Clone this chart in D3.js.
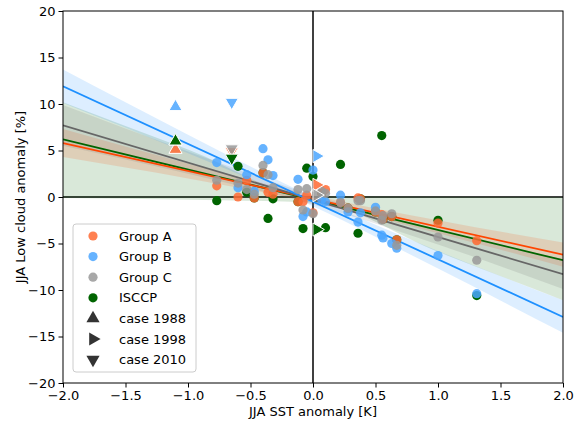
<!DOCTYPE html>
<html>
<head>
<meta charset="utf-8">
<script src="https://cdn.jsdelivr.net/npm/d3@7"></script>
<style>
  body { margin: 0; background: #fff; }
  svg text { font-family: "DejaVu Sans", sans-serif; }
</style>
</head>
<body>
<svg id="chart"></svg>
<script>
// yearly JJA SST anomaly (shared x for all groups)
const sst    = [-0.77, -0.60, -0.53, -0.47, -0.40, -0.36, -0.32, -0.12, -0.08, -0.05, 0.00, 0.07, 0.10, 0.22, 0.28, 0.36, 0.38, 0.50, 0.55, 0.56, 0.63, 0.67, 1.00, 1.31];
const groupA = [1.2, 0.0, 1.8, -0.1, 2.6, 0.5, 0.3, -0.5, -0.5, 0.2, -1.7, 0.4, 0.8, -0.6, -1.2, -0.1, -0.2, -1.6, -1.9, -2.4, -2.1, -4.6, -2.8, -4.7];
const groupB = [3.7, 1.0, 2.4, 0.6, 5.2, 4.0, 2.3, 1.9, -2.1, -1.6, 2.9, -0.3, -0.5, 0.2, -1.6, -2.7, -1.7, -1.1, -4.1, -4.4, -5.0, -5.5, -6.3, -10.4];
const groupC = [1.8, 1.5, 0.8, 0.3, 3.4, 2.4, 1.0, 0.8, -1.4, 0.9, -1.8, 0.6, 0.4, -0.6, -1.2, -0.4, -0.4, -1.5, -2.5, -2.0, -1.8, -5.2, -4.3, -6.8];
const isccp  = [-0.4, 3.3, 0.5, -0.1, 2.6, -2.3, -0.2, -0.5, -3.4, 3.1, 2.2, 0.4, -3.3, 3.5, -1.2, -3.9, -0.2, -1.6, 6.6, -2.4, -2.1, -4.6, -2.5, -10.6];

// case years: 1988, 1998, 2010
const caseNames = ['case 1988', 'case 1998', 'case 2010'];
const caseSst = [-1.10, 0.03, -0.65];
const caseA = [5.1, 1.3, 4.9];
const caseB = [9.7, 4.4, 10.2];
const caseC = [6.0, 0.2, 5.2];
const caseI = [6.0, -3.5, 4.2];

// regression lines and bands
const groupNames = ['Group A', 'Group B', 'Group C', 'ISCCP'];
const slopes     = [-3.0, -6.2, -4.0, -3.25];
const intercepts = [-0.2, -0.5, -0.3, -0.3];
const bandX  = [-2, -1, 0, 1, 2];
const upperA = [7.3, 3.6, 0.2, -2.5, -4.9];
const lowerA = [4.3, 2.0, -0.6, -3.9, -7.5];
const upperB = [13.7, 6.7, 0.0, -5.8, -11.1];
const lowerB = [10.1, 4.7, -1.0, -7.7, -14.6];
const upperC = [9.9, 4.9, 0.2, -3.5, -6.7];
const lowerC = [5.5, 2.5, -0.8, -5.1, -9.9];
const upperI = [10.2, 5.1, 0.1, 0.05, 0.0];
const lowerI = [-0.1, -0.3, -0.6, -5.9, -11.1];

const xTicks = [-2, -1.5, -1, -0.5, 0, 0.5, 1, 1.5, 2];
const yTicks = [-20, -15, -10, -5, 0, 5, 10, 15, 20];

width = 584
height = 421
marginTop = 11
marginRight = 21
marginBottom = 38
marginLeft = 63

const lineColors  = ['#ff4500', '#1e90ff', '#666666', '#006400'];
const pointColors = ['#ff6a33', '#4ba6ff', '#999999', '#006400'];
const pointAlpha  = [0.85, 0.85, 0.85, 1];

const svg = d3.select('#chart')
  .attr('width', width)
  .attr('height', height)
  .attr('viewBox', [0, 0, width, height]);

const x = d3.scaleLinear().domain([-2, 2]).range([marginLeft, width - marginRight]);
const y = d3.scaleLinear().domain([-20, 20]).range([height - marginBottom, marginTop]);

svg.append('defs').append('clipPath').attr('id', 'clip')
  .append('rect')
  .attr('x', marginLeft).attr('y', marginTop)
  .attr('width', width - marginLeft - marginRight)
  .attr('height', height - marginTop - marginBottom);

const plot = svg.append('g').attr('clip-path', 'url(#clip)');

// zero lines
plot.append('line')
  .attr('x1', x(-2)).attr('x2', x(2)).attr('y1', y(0)).attr('y2', y(0))
  .attr('stroke', 'black').attr('stroke-width', 1.5);
plot.append('line')
  .attr('x1', x(0)).attr('x2', x(0)).attr('y1', y(-20)).attr('y2', y(20))
  .attr('stroke', 'black').attr('stroke-width', 1.5);

// confidence bands
const uppers = [upperA, upperB, upperC, upperI];
const lowers = [lowerA, lowerB, lowerC, lowerI];
const area = d3.area()
  .x(d => x(d[0]))
  .y0(d => y(d[1]))
  .y1(d => y(d[2]))
  .curve(d3.curveMonotoneX);
[3, 0, 2, 1].forEach(g => {
  plot.append('path')
    .datum(bandX.map((v, i) => [v, lowers[g][i], uppers[g][i]]))
    .attr('d', area)
    .attr('fill', lineColors[g])
    .attr('fill-opacity', 0.15);
});

// regression lines
[3, 0, 2, 1].forEach(g => {
  plot.append('line')
    .attr('x1', x(-2)).attr('y1', y(intercepts[g] + slopes[g] * -2))
    .attr('x2', x(2)).attr('y2', y(intercepts[g] + slopes[g] * 2))
    .attr('stroke', lineColors[g])
    .attr('stroke-width', 1.8);
});

// scatter points (ISCCP underneath the model groups)
const series = [groupA, groupB, groupC, isccp];
[3, 0, 1, 2].forEach(g => {
  plot.append('g').selectAll('circle')
    .data(series[g])
    .enter().append('circle')
    .attr('cx', (d, i) => x(sst[i]))
    .attr('cy', d => y(d))
    .attr('r', 4.6)
    .attr('fill', pointColors[g])
    .attr('fill-opacity', pointAlpha[g]);
});

// case year triangles
const caseSeries = [caseA, caseB, caseC, caseI];
const rotations = [0, 90, 180];
const tri = d3.symbol().type(d3.symbolTriangle).size(75);
caseSeries.forEach((vals, g) => {
  plot.append('g').selectAll('path')
    .data(vals)
    .enter().append('path')
    .attr('d', tri)
    .attr('transform', (d, i) => `translate(${x(caseSst[i])},${y(d)}) rotate(${rotations[i]})`)
    .attr('fill', pointColors[g])
    .attr('fill-opacity', pointAlpha[g])
    .attr('stroke', 'white')
    .attr('stroke-width', 1);
});

// axes
svg.append('g')
  .attr('transform', `translate(0, ${height - marginBottom})`)
  .call(d3.axisBottom(x).tickValues(xTicks).tickFormat(d3.format('.1f')).tickSizeOuter(0).tickSize(4.5).tickPadding(3));
svg.append('g')
  .attr('transform', `translate(${marginLeft}, 0)`)
  .call(d3.axisLeft(y).tickValues(yTicks).tickFormat(d3.format('d')).tickSizeOuter(0).tickSize(4.5).tickPadding(3));
svg.selectAll('.tick text').attr('font-size', 13).attr('fill', '#000')
  .style('font-family', '"DejaVu Sans", sans-serif');
svg.selectAll('.tick line').attr('stroke', '#000');
svg.selectAll('.domain').remove();

// frame
svg.append('rect')
  .attr('x', marginLeft).attr('y', marginTop)
  .attr('width', width - marginLeft - marginRight)
  .attr('height', height - marginTop - marginBottom)
  .attr('fill', 'none')
  .attr('stroke', 'black')
  .attr('stroke-width', 1);

// axis labels
svg.append('text')
  .text('JJA SST anomaly [K]')
  .attr('x', x(0)).attr('y', 416)
  .attr('text-anchor', 'middle')
  .attr('font-size', 13);
svg.append('text')
  .text('JJA Low cloud anomaly [%]')
  .attr('transform', `translate(25, ${y(0)}) rotate(-90)`)
  .attr('text-anchor', 'middle')
  .attr('font-size', 13);

// legend
const legend = svg.append('g').attr('transform', 'translate(73, 224)');
legend.append('rect')
  .attr('width', 123).attr('height', 148)
  .attr('rx', 3)
  .attr('fill', 'white').attr('fill-opacity', 0.8)
  .attr('stroke', '#cccccc');
const rowH = 20.6;
groupNames.forEach((name, g) => {
  legend.append('circle')
    .attr('cx', 20).attr('cy', 12 + g * rowH)
    .attr('r', 4.6)
    .attr('fill', pointColors[g])
    .attr('fill-opacity', pointAlpha[g]);
  legend.append('text')
    .text(name)
    .attr('x', 46).attr('y', 12 + g * rowH)
    .attr('dy', '0.35em')
    .attr('font-size', 13);
});
caseNames.forEach((name, i) => {
  const cy = 12 + (i + 4) * rowH;
  legend.append('path')
    .attr('d', tri)
    .attr('transform', `translate(20, ${cy}) rotate(${rotations[i]})`)
    .attr('fill', '#333333');
  legend.append('text')
    .text(name)
    .attr('x', 46).attr('y', cy)
    .attr('dy', '0.35em')
    .attr('font-size', 13);
});
</script>
</body>
</html>
